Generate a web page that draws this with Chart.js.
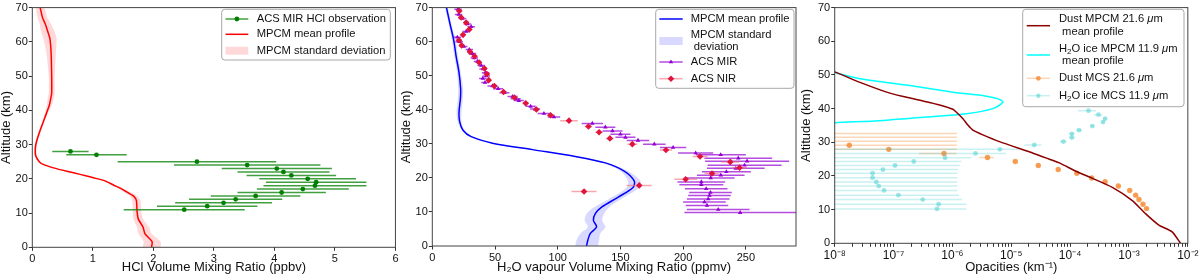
<!DOCTYPE html>
<html lang="en">
<head>
<meta charset="UTF-8" />
<title>HCl, water vapour and opacity profiles</title>
<script src="https://cdn.jsdelivr.net/npm/chart.js"></script>
<style>
  body { margin: 0; background: #fff; }
  .panel { position: absolute; top: 0; width: 400px; height: 278px; }
</style>
</head>
<body>
<div class="panel" style="left:0"><canvas id="chartHcl" width="400" height="278"></canvas></div>
<div class="panel" style="left:400px"><canvas id="chartH2o" width="400" height="278"></canvas></div>
<div class="panel" style="left:800px"><canvas id="chartOpac" width="400" height="278"></canvas></div>

<script>
// ---- shared axis ----
const altTicks = [0, 10, 20, 30, 40, 50, 60, 70];

// ---- panel 1 : HCl ----
const hclTicks = [0, 1, 2, 3, 4, 5, 6];
const hclObsAlt = [28, 27, 25, 24, 23, 22, 21, 20, 19, 18, 17, 16, 15, 14, 13, 12, 11];
const hclObsVal = [0.63, 1.06, 2.72, 3.55, 4.04, 4.15, 4.28, 4.55, 4.69, 4.67, 4.47, 4.12, 3.69, 3.36, 3.16, 2.89, 2.51];
const hclObsErr = [0.30, 0.50, 1.31, 1.21, 0.91, 0.76, 0.74, 0.80, 0.83, 0.85, 0.76, 0.73, 0.74, 0.77, 0.80, 0.83, 1.00];

const hclModelAlt  = [0, 1.6, 4.0, 5.9, 8.3, 10.7, 13.6, 15.0, 16.5, 17.3, 18.2, 19.4, 20.3, 21.3, 22.2, 23.2, 24.2, 25.0, 26.8, 29.0, 30.9, 33.7, 38.0, 41.4, 43.0, 45.0, 50.0, 57.0, 61.0, 63.3, 65.4, 67.0, 70];
const hclModelMean = [1.97, 1.98, 1.86, 1.83, 1.75, 1.73, 1.72, 1.67, 1.53, 1.45, 1.34, 1.20, 1.01, 0.79, 0.57, 0.35, 0.18, 0.115, 0.055, 0.05, 0.07, 0.12, 0.21, 0.28, 0.30, 0.32, 0.32, 0.31, 0.29, 0.25, 0.21, 0.17, 0.13];
const hclModelStd  = [0.15, 0.14, 0.11, 0.10, 0.08, 0.07, 0.07, 0.06, 0.05, 0.04, 0.03, 0.03, 0.02, 0.02, 0.02, 0.02, 0.02, 0.02, 0.02, 0.02, 0.02, 0.02, 0.02, 0.04, 0.05, 0.05, 0.05, 0.08, 0.11, 0.11, 0.09, 0.08, 0.06];

// ---- panel 2 : H2O vapour ----
const h2oTicks = [0, 50, 100, 150, 200, 250];
const h2oModelAlt  = [0, 1.7, 3.7, 5.6, 7.5, 9.5, 11.4, 14.3, 17.2, 19.1, 22.0, 24.4, 26.3, 28.3, 30.2, 32.1, 34.0, 36.5, 39.3, 43.2, 46.1, 50.9, 55.7, 60.6, 65.4, 70];
const h2oModelMean = [123, 124, 126, 131, 128.5, 130, 135, 148, 160, 161, 153, 138, 114, 80, 48, 31, 24.5, 21.8, 21.3, 22.4, 22.6, 21.3, 19, 17, 14, 11.3];
const h2oModelStd  = [9, 9, 8, 7, 7, 7, 6, 5, 5, 5, 3, 2, 1.5, 1, 1, 1, 1, 1.5, 2, 2, 2, 1.5, 1.5, 1.5, 1, 1];

const mirAlt = [69.5, 68.0, 66.8, 65.2, 64.4, 63.0, 61.3, 60.0, 58.6, 57.7, 56.5, 55.2, 54.2, 53.0, 52.0, 50.9, 49.9, 49.2, 48.0, 47.0,
                46.2, 45.0, 43.9, 43.2, 42.7, 41.0, 40.2, 38.9, 37.9, 36.0, 34.9, 33.8, 32.8, 31.9, 31.0, 29.9, 28.9, 27.3, 26.8, 25.8,
                24.9, 23.7, 22.8, 21.8, 20.8, 20.0, 18.8, 18.0, 16.8, 15.7, 14.85, 13.8, 12.9, 11.9, 10.7, 9.8];
const mirVal = [20.5, 21, 24, 28, 31, 27, 20, 21.5, 25, 29.5, 32, 33.5, 36, 39, 40.5, 42.5, 43, 40.3, 42, 48,
                52.5, 57.5, 64, 66.5, 69, 78.4, 82, 89, 97, 127.6, 138, 143.7, 150, 154, 164, 177, 192, 210, 230, 244,
                251, 249, 242, 234.5, 230, 222, 214.5, 214.5, 218.4, 221.8, 221, 220, 217, 219, 228, 245.5];
const mirErr = [3, 3, 3, 3, 3, 3, 3, 3, 3, 3, 3, 3, 3, 3, 3, 3, 3, 3, 3, 4,
                4, 4, 4, 4, 4, 4, 4, 5, 5, 8.5, 8, 8, 8, 8, 9, 9, 10.5, 14, 20, 27,
                33.5, 29.5, 23, 19.5, 19, 19, 19, 17.5, 17, 17, 17, 17, 17, 17, 25, 44.5];

const nirAlt = [69.0, 67.1, 65.6, 63.6, 62.0, 60.4, 58.9, 57.0, 55.7, 53.9, 52.1, 50.5, 48.7, 47.0, 45.2, 43.6,
                41.9, 40.1, 38.4, 36.8, 35.1, 33.4, 31.6, 29.9, 28.2, 26.3, 24.7, 23.0, 21.3, 19.6, 17.8, 16.0];
const nirVal = [21.5, 23, 27, 29.5, 24.5, 21.3, 23.4, 30, 33.7, 37.3, 41.6, 43.5, 45, 49.5, 56.8, 65.5,
                74.5, 83, 94.3, 109, 124.5, 133, 141.6, 159.5, 186.3, 213.5, 237.6, 245, 223, 202, 165, 121];
const nirErr = [2, 2, 2, 2, 2, 2, 2, 2, 2, 2, 2, 2, 2, 2, 2.5, 2.5,
                2.5, 2.5, 3, 7, 3, 3, 3, 4, 5, 6, 7, 6, 6, 9, 10, 10];

// ---- panel 3 : opacities (km-1) ----
const opacMajorTicks  = [1e-8, 1e-7, 1e-6, 1e-5, 1e-4, 1e-3, 1e-2];
const opacMajorLabels = ['10\u207B\u2078', '10\u207B\u2077', '10\u207B\u2076', '10\u207B\u2075', '10\u207B\u2074', '10\u207B\u00B3', '10\u207B\u00B2'];
const opacMinorSteps  = [2, 3, 4, 5, 6, 7, 8, 9];

const dustModelAlt = [51.5, 50.9, 47.8, 44.6, 42.7, 41.1, 39.8, 39.0, 37.0, 35.1, 33.6, 32.2, 30.2, 26.8, 23.9, 21.4, 19.3, 16.6, 12.7, 8.8, 5.4, 3.4, 0];
const dustModelVal = [7e-9, 1.0e-8, 2.69e-8, 8.65e-8, 2.44e-7, 6.07e-7, 1.02e-6, 1.16e-6, 1.51e-6, 1.83e-6, 2.23e-6, 3.29e-6, 6.30e-6, 2.31e-5, 6.53e-5, 1.25e-4, 2.39e-4, 5.22e-4, 1.14e-3, 1.91e-3, 3.22e-3, 5.42e-3, 7.5e-3];

const iceModelAlt = [51.2, 50.7, 48.9, 47.0, 45.0, 43.7, 42.9, 41.9, 40.0, 38.5, 37.5, 36.5, 35.8, 35.6];
const iceModelVal = [8e-9, 1.0e-8, 2.69e-8, 1.66e-7, 8.98e-7, 3.74e-6, 6.0e-6, 7.2e-6, 4.85e-6, 1.72e-6, 3.6e-7, 6.7e-8, 1.0e-8, 7e-9];

const dustObsAlt = [32.6, 31.5, 30.3, 29.1, 27.9, 26.7, 25.5, 24.3, 23.1, 21.9, 20.8, 19.4, 18.3, 17.0, 15.7, 14.3, 13.0, 11.6, 10.3];
const dustObsVal = [5e-9, 5e-9, 5e-9, 1.77e-8, 8.3e-8, 7.2e-7, 3.95e-6, 1.17e-5, 2.88e-5, 6.28e-5, 1.30e-4, 2.33e-4, 3.93e-4, 6.6e-4, 1.03e-3, 1.30e-3, 1.48e-3, 1.73e-3, 1.99e-3];
const dustObsErr = [1.19e-6, 1.19e-6, 1.19e-6, 1.17e-6, 1.1e-6, 4.5e-7, 1.1e-6, 1e-6, 2e-6, 4e-6, 8e-6, 1.5e-5, 2.5e-5, 4e-5, 6e-5, 8e-5, 9e-5, 1e-4, 1.2e-4];

const iceObsAlt = [10.2, 11.6, 13.0, 14.3, 15.7, 17.0, 18.2, 19.5, 20.8, 21.9, 23.1, 24.3, 25.4, 26.7, 27.9, 29.2, 30.2, 31.4, 32.5, 33.6, 34.8, 36.0, 37.0, 38.2, 39.4];
const iceObsVal = [5.47e-7, 5.83e-7, 3.13e-7, 1.21e-7, 6.9e-8, 5.6e-8, 5.1e-8, 4.4e-8, 4.4e-8, 6.6e-8, 1.06e-7, 2.2e-7, 7.5e-7, 2.47e-6, 6.4e-6, 2.46e-5, 7.7e-5, 1.07e-4, 1.07e-4, 1.42e-4, 2.39e-4, 3.63e-4, 3.93e-4, 3.03e-4, 2.05e-4];
const iceObsErr = [1.17e-6, 1.14e-6, 1.14e-6, 1.17e-6, 1.14e-6, 1.15e-6, 1.16e-6, 1.17e-6, 1.17e-6, 1.18e-6, 1.22e-6, 1.19e-6, 1.34e-6, 5.7e-6, 7e-6, 8e-6, 1e-5, 1.2e-5, 1.2e-5, 1.5e-5, 2e-5, 2.5e-5, 3e-5, 5e-5, 7e-5];

const FONT = "'Liberation Sans', Arial, Helvetica, sans-serif";

// ---- helpers to turn arrays into chart.js datasets ----
function pts(xs, ys) { return xs.map((x, i) => ({ x: x, y: ys[i] })); }

// each bar = two points followed by a gap
function errBars(xs, ys, errs, floor) {
  const out = [];
  xs.forEach((x, i) => {
    let lo = x - errs[i];
    if (floor !== undefined) lo = Math.max(lo, floor);
    out.push({ x: lo, y: ys[i] }, { x: x + errs[i], y: ys[i] }, { x: null, y: null });
  });
  return out;
}

// closed polygon: lower edge going up, upper edge coming back
function band(ys, mean, sd) {
  const lower = ys.map((y, i) => ({ x: mean[i] - sd[i], y: y }));
  const upper = ys.map((y, i) => ({ x: mean[i] + sd[i], y: y })).reverse();
  return lower.concat(upper);
}

function lineDs(data, color, width, order, tension) {
  return { data, borderColor: color, borderWidth: width, pointRadius: 0, fill: false,
           tension: tension || 0, spanGaps: false, order };
}
function bandDs(data, color, order) {
  return { data, borderWidth: 0, borderColor: 'transparent', backgroundColor: color,
           pointRadius: 0, fill: 'shape', tension: 0.3, order };
}
function markDs(data, color, style, r, order) {
  return { data, showLine: false, pointStyle: style, pointRadius: r, pointBackgroundColor: color,
           pointBorderColor: color, pointBorderWidth: 0, order };
}

function makeScales(o) {
  const tickFont = { family: FONT, size: 11 };
  const grid = { drawOnChartArea: false, drawTicks: true, tickLength: 3.5, color: '#333', lineWidth: 1 };
  return {
    x: {
      type: o.xType || 'linear', min: o.xMin, max: o.xMax,
      afterBuildTicks: s => { s.ticks = o.xTicks.map(v => ({ value: v })); },
      afterFit: s => { s.height = o.xHeight; },
      grid: grid, border: { display: false },
      ticks: { font: o.xTickFont || tickFont, color: '#111', padding: o.xPad || 1.5, maxRotation: 0, autoSkip: false,
               callback: o.xLabel || (v => String(v)) },
      title: { display: true, text: o.xTitle, color: '#111', font: { family: FONT, size: 13 },
               padding: { top: 0, bottom: 3 } }
    },
    y: {
      type: 'linear', min: 0, max: 70,
      afterBuildTicks: s => { s.ticks = altTicks.map(v => ({ value: v })); },
      afterFit: s => { s.width = o.yWidth; },
      grid: grid, border: { display: false },
      ticks: { font: tickFont, color: '#111', padding: 1, callback: v => String(v) },
      title: { display: true, text: 'Altitude (km)', color: '#111',
               font: { family: FONT, size: 13, lineHeight: 1 }, padding: { top: 0, bottom: 0 } }
    }
  };
}

// text with sub-scripts and italic parts: ['H', ['2','sub'], 'O', ['\u03BC','it']]
function drawRich(ctx, parts, x, y, size) {
  parts.forEach(p => {
    const t = typeof p === 'string' ? p : p[0];
    const st = typeof p === 'string' ? '' : p[1];
    const fs = st === 'sub' ? size * 0.72 : size;
    ctx.font = (st === 'it' ? 'italic ' : '') + fs + 'px ' + FONT;
    ctx.fillText(t, x, st === 'sub' ? y + size * 0.28 : y);
    x += ctx.measureText(t).width;
  });
}

function drawMarker(ctx, style, r, x, y) {
  if (Chart.helpers && Chart.helpers.drawPoint) {
    Chart.helpers.drawPoint(ctx, { pointStyle: style, radius: r, borderWidth: 0, rotation: 0 }, x, y);
  } else {
    ctx.beginPath(); ctx.arc(x, y, r, 0, Math.PI * 2); ctx.fill();
  }
}

function framePlugin(lg) {
  return {
    id: 'frameLegend',
    afterDraw(chart) {
      const ctx = chart.ctx, a = chart.chartArea;
      ctx.save();
      ctx.strokeStyle = '#444';
      ctx.lineWidth = 1;
      ctx.strokeRect(a.left, a.top, a.right - a.left, a.bottom - a.top);

      const [x0, y0, x1, y1] = lg.box;
      ctx.beginPath();
      if (ctx.roundRect) ctx.roundRect(x0, y0, x1 - x0, y1 - y0, 3); else ctx.rect(x0, y0, x1 - x0, y1 - y0);
      ctx.fillStyle = 'rgba(255,255,255,0.85)';
      ctx.fill();
      ctx.strokeStyle = '#a8a8a8';
      ctx.stroke();

      const [h0, h1] = lg.handle;
      lg.items.forEach(it => {
        if (it.kind === 'band') {
          ctx.fillStyle = it.color;
          ctx.fillRect(h0, it.y - 4, h1 - h0, 8);
          return;
        }
        ctx.strokeStyle = it.kind === 'line' ? it.color : it.barColor;
        ctx.lineWidth = 1.5;
        ctx.beginPath(); ctx.moveTo(h0, it.y); ctx.lineTo(h1, it.y); ctx.stroke();
        if (it.kind === 'errbar') {
          ctx.fillStyle = it.color; ctx.strokeStyle = it.color;
          drawMarker(ctx, it.style, it.r, (h0 + h1) / 2, it.y);
        }
      });

      ctx.fillStyle = '#111';
      ctx.textBaseline = 'middle';
      ctx.textAlign = 'left';
      lg.texts.forEach(t => drawRich(ctx, t.parts, lg.textX, t.y, 11.2));
      ctx.restore();
    }
  };
}

function baseOptions(scales, padRight) {
  return {
    responsive: false, animation: false, events: [],
    layout: { padding: { left: 0, top: 4, right: padRight, bottom: 0 } },
    plugins: { legend: { display: false }, tooltip: { enabled: false } },
    scales: scales
  };
}

// ---- HCl ----
new Chart(document.getElementById('chartHcl'), {
  type: 'line',
  data: {
    datasets: [
      bandDs(band(hclModelAlt, hclModelMean, hclModelStd), 'rgba(255,0,0,0.15)', 5),
      lineDs(pts(hclModelMean, hclModelAlt), '#ff0000', 1.5, 4, 0.2),
      lineDs(errBars(hclObsVal, hclObsAlt, hclObsErr), 'rgba(0,128,0,0.75)', 1.5, 2),
      markDs(pts(hclObsVal, hclObsAlt), '#008000', 'circle', 2.4, 1)
    ]
  },
  options: baseOptions(makeScales({ xMin: 0, xMax: 6, xTicks: hclTicks, xHeight: 30.7, yWidth: 32.3,
                                    xTitle: 'HCl Volume Mixing Ratio (ppbv)' }), 4),
  plugins: [framePlugin({
    box: [221.7, 9.3, 390.3, 60],
    handle: [225.5, 248.3], textX: 256.7,
    items: [
      { kind: 'errbar', y: 19, color: '#008000', barColor: 'rgba(0,128,0,0.75)', style: 'circle', r: 2.4 },
      { kind: 'line', y: 34.3, color: '#ff0000' },
      { kind: 'band', y: 50.7, color: 'rgba(255,0,0,0.15)' }
    ],
    texts: [
      { y: 19, parts: ['ACS MIR HCl observation'] },
      { y: 34.3, parts: ['MPCM mean profile'] },
      { y: 50.7, parts: ['MPCM standard deviation'] }
    ]
  })]
});

// ---- H2O vapour ----
new Chart(document.getElementById('chartH2o'), {
  type: 'line',
  data: {
    datasets: [
      bandDs(band(h2oModelAlt, h2oModelMean, h2oModelStd), 'rgba(0,0,255,0.15)', 7),
      lineDs(pts(h2oModelMean, h2oModelAlt), '#0000ff', 1.5, 6, 0.3),
      lineDs(errBars(mirVal, mirAlt, mirErr), 'rgba(148,0,211,0.7)', 1.5, 5),
      markDs(pts(mirVal, mirAlt), '#9400d3', 'triangle', 2.6, 4),
      lineDs(errBars(nirVal, nirAlt, nirErr), 'rgba(240,110,120,0.6)', 1.5, 3),
      markDs(pts(nirVal, nirAlt), '#e0143c', 'rectRot', 3.3, 2)
    ]
  },
  options: baseOptions(makeScales({ xMin: 0, xMax: 290, xTicks: h2oTicks, xHeight: 32, yWidth: 32.3,
                                    xTitle: 'H\u2082O vapour Volume Mixing Ratio (ppmv)' }), 0.7),
  plugins: [framePlugin({
    box: [255.7, 9.3, 394, 88.3],
    handle: [259.3, 282.7], textX: 290.7,
    items: [
      { kind: 'line', y: 19, color: '#0000ff' },
      { kind: 'band', y: 41, color: 'rgba(0,0,255,0.15)' },
      { kind: 'errbar', y: 62, color: '#9400d3', barColor: 'rgba(148,0,211,0.7)', style: 'triangle', r: 2.6 },
      { kind: 'errbar', y: 78.7, color: '#e0143c', barColor: 'rgba(240,110,120,0.6)', style: 'rectRot', r: 3.3 }
    ],
    texts: [
      { y: 18.7, parts: ['MPCM mean profile'] },
      { y: 35, parts: ['MPCM standard'] },
      { y: 46.5, parts: [' deviation'] },
      { y: 62, parts: ['ACS MIR'] },
      { y: 78.7, parts: ['ACS NIR'] }
    ]
  })]
});

// ---- opacities ----
const opacAllTicks = [];
opacMajorTicks.forEach((m, i) => {
  opacAllTicks.push(m);
  if (i < opacMajorTicks.length - 1) opacMinorSteps.forEach(s => opacAllTicks.push(m * s));
});

new Chart(document.getElementById('chartOpac'), {
  type: 'line',
  data: {
    datasets: [
      lineDs(errBars(dustObsVal, dustObsAlt, dustObsErr, 1e-10), 'rgba(245,140,50,0.35)', 1.5, 6),
      markDs(pts(dustObsVal, dustObsAlt), 'rgba(245,135,45,0.8)', 'circle', 2.7, 5),
      lineDs(errBars(iceObsVal, iceObsAlt, iceObsErr, 1e-10), 'rgba(60,205,205,0.28)', 1.5, 4),
      markDs(pts(iceObsVal, iceObsAlt), 'rgba(60,205,205,0.5)', 'circle', 2.4, 3),
      lineDs(pts(iceModelVal, iceModelAlt), '#00ffff', 1.5, 2, 0.3),
      lineDs(pts(dustModelVal, dustModelAlt), '#8b0000', 1.5, 1, 0.2)
    ]
  },
  options: baseOptions(makeScales({
    xType: 'logarithmic', xMin: 1e-8, xMax: 1e-2, xTicks: opacAllTicks, xHeight: 34.7, yWidth: 34.7, xPad: 1.5,
    xTickFont: { family: FONT, size: 12 },
    xLabel: v => { const i = opacMajorTicks.indexOf(v); return i >= 0 ? opacMajorLabels[i] : ''; },
    xTitle: 'Opacities (km\u207B\u00B9)' }), 11),
  plugins: [framePlugin({
    box: [222.7, 9.3, 384, 106.7],
    handle: [226.7, 250], textX: 259,
    items: [
      { kind: 'line', y: 25.7, color: '#8b0000' },
      { kind: 'line', y: 55, color: '#00ffff' },
      { kind: 'errbar', y: 78.3, color: 'rgba(245,135,45,0.8)', barColor: 'rgba(245,140,50,0.35)', style: 'circle', r: 2.4 },
      { kind: 'errbar', y: 95.7, color: 'rgba(60,205,205,0.5)', barColor: 'rgba(60,205,205,0.28)', style: 'circle', r: 2.2 }
    ],
    texts: [
      { y: 19, parts: ['Dust MPCM 21.6 ', ['\u03BC', 'it'], 'm'] },
      { y: 32.3, parts: [' mean profile'] },
      { y: 49, parts: ['H', ['2', 'sub'], 'O ice MPCM 11.9 ', ['\u03BC', 'it'], 'm'] },
      { y: 61, parts: [' mean profile'] },
      { y: 78.3, parts: ['Dust MCS 21.6 ', ['\u03BC', 'it'], 'm'] },
      { y: 95.7, parts: ['H', ['2', 'sub'], 'O ice MCS 11.9 ', ['\u03BC', 'it'], 'm'] }
    ]
  })]
});
</script>
</body>
</html>
